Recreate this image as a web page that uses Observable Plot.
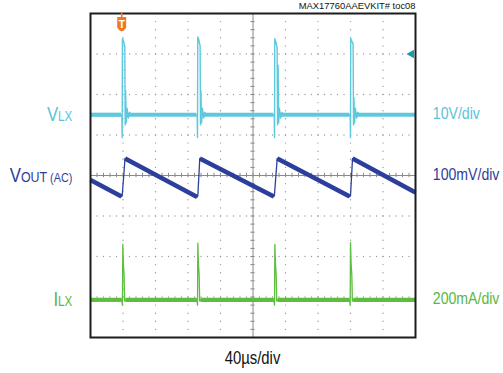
<!DOCTYPE html>
<html>
<head>
<meta charset="utf-8">
<script src="https://cdn.jsdelivr.net/npm/d3@7"></script>
<script src="https://cdn.jsdelivr.net/npm/@observablehq/plot@0.6"></script>
<style>
  html, body { margin: 0; padding: 0; background: #fff; }
  #chart svg { display: block; }
</style>
</head>
<body>
<div id="chart"></div>
<script>
// ---- Data (time in µs, 40 µs/div; amplitude in screen divisions from centre) ----
const title = "MAX17760AAEVKIT# toc08";
const xLabel = "40µs/div";
const gridX = [40, 80, 120, 160, 240, 280, 320, 360];
const gridY = [-3, -2, -1, 1, 2, 3];
const triggerTime = 39.0;
const triggerLevel = 3;

// VLX (10V/div)
const vlx = [
  [0,1.5],[37.5,1.5],[38.6,1.46],[39.0,0.94],[39.3,3.38],[40.6,3.32],[42.2,3.18],[42.7,1.25],[43.2,2.1],[44.0,1.3],[45.0,1.66],[46.5,1.42],[48.0,1.56],[50.0,1.5],
  [130.2,1.5],[131.3,1.46],[131.7,0.94],[132.0,3.42],[133.3,3.35],[134.9,3.2],[135.4,1.25],[135.9,2.1],[136.7,1.3],[137.7,1.66],[139.2,1.42],[140.7,1.56],[142.7,1.5],
  [225.0,1.5],[226.1,1.46],[226.5,0.94],[226.8,3.38],[228.1,3.3],[229.7,3.15],[230.2,1.25],[230.9,2.72],[231.6,1.3],[232.5,1.66],[234.0,1.42],[235.5,1.56],[237.5,1.5],
  [318.5,1.5],[319.6,1.46],[320.0,0.94],[320.3,3.38],[321.6,3.32],[323.2,3.25],[323.7,1.25],[324.2,1.93],[325.0,1.3],[326.0,1.66],[327.5,1.42],[329.0,1.56],[331.0,1.5],[400,1.5]
];
const vlxBase = 1.5;
const vlxQuiet = [[0,37.5],[44,130.2],[137,225],[232,318.5],[325,400]];

// VOUT (AC) (100mV/div)
const vout = [
  [0,-0.11],[38.2,-0.52],[39.0,-0.50],[42.5,0.42],
  [131.3,-0.53],[132.1,-0.50],[134.5,0.42],
  [225.6,-0.52],[226.3,-0.50],[229.8,0.42],
  [319.1,-0.52],[320.0,-0.50],[322.5,0.42],
  [400,-0.42]
];

// ILX (200mA/div)
const ilx = [
  [0,-3.07],[38.5,-3.07],[39.3,-3.2],[39.75,-1.70],[40.5,-2.2],[41.3,-2.44],[42.0,-3.1],[43.0,-3.07],
  [130.9,-3.07],[131.7,-3.2],[132.1,-1.67],[132.9,-2.2],[133.7,-2.44],[134.4,-3.1],[135.4,-3.07],
  [225.7,-3.07],[226.5,-3.2],[226.9,-1.70],[227.7,-2.2],[228.5,-2.44],[229.2,-3.1],[230.2,-3.07],
  [318.8,-3.07],[319.6,-3.2],[320.0,-1.66],[320.8,-2.2],[321.6,-2.44],[322.3,-3.1],[323.3,-3.07],[400,-3.07]
];
const ilxBase = -3.07;
const ilxQuiet = [[0,38.5],[43,130.9],[135.4,225.7],[230.2,318.8],[323.3,400]];

const channels = [
  {main: "V", sub: [["LX", 14.5]], scale: "10V/div", color: "#5bc3da", level: vlxBase},
  {main: "V", sub: [["OUT", 15.5], [" (AC)", 13.5]], scale: "100mV/div", color: "#2e3e98", level: 0},
  {main: "I", sub: [["LX", 14.5]], scale: "200mA/div", color: "#5ab744", level: ilxBase}
];

// ---- derived helpers (grid geometry) ----
const dotStepsY = d3.range(-4, 4.001, 0.2);
const dotStepsX = d3.range(0, 400.001, 8);
const gridDots = [
  ...gridX.flatMap(x => dotStepsY.map(y => ({x, y}))),
  ...gridY.flatMap(y => dotStepsX.map(x => ({x, y})))
];
const voutRamps = [];
for (let i = 0; i < vout.length - 1; i++) {
  if (vout[i+1][1] < vout[i][1]) voutRamps.push([vout[i], vout[i+1]]);
}

const cVLX = "#5ec8dc", cVOUT = "#2d3f9c", cILX = "#5dbd3f";

const chart = Plot.plot({
  width: 503,
  height: 373,
  marginLeft: 90,
  marginRight: 88,
  marginTop: 13,
  marginBottom: 36,
  x: {domain: [0, 400], axis: null},
  y: {domain: [-4, 4], axis: null},
  marks: [
    Plot.dot(gridDots, {x: "x", y: "y", r: 0.7, fill: "#9a9a9a", stroke: null}),
    Plot.ruleX([200], {stroke: "#8a8a8a", strokeWidth: 1}),
    Plot.ruleY([0], {stroke: "#8a8a8a", strokeWidth: 1}),
    Plot.ruleX(dotStepsX, {x: d => d, y1: -0.055, y2: 0.055, stroke: "#8a8a8a", strokeWidth: 1}),
    Plot.ruleY(dotStepsY, {y: d => d, x1: 197.4, x2: 202.6, stroke: "#8a8a8a", strokeWidth: 1}),
    // VLX
    Plot.link(vlxQuiet, {x1: d => d[0], x2: d => d[1], y1: vlxBase, y2: vlxBase, stroke: cVLX, strokeWidth: 4.2, strokeLinecap: "butt"}),
    Plot.line(vlx, {x: d => d[0], y: d => d[1], stroke: cVLX, strokeWidth: 1.4}),
    // VOUT
    Plot.link(voutRamps, {x1: d => d[0][0], y1: d => d[0][1], x2: d => d[1][0], y2: d => d[1][1], stroke: cVOUT, strokeWidth: 4.6, strokeLinecap: "butt"}),
    Plot.line(vout, {x: d => d[0], y: d => d[1], stroke: cVOUT, strokeWidth: 1.3, curve: "linear"}),
    // ILX
    Plot.link(ilxQuiet, {x1: d => d[0], x2: d => d[1], y1: ilxBase, y2: ilxBase, stroke: cILX, strokeWidth: 4.2, strokeLinecap: "butt"}),
    Plot.line(ilx, {x: d => d[0], y: d => d[1], stroke: cILX, strokeWidth: 1.3}),
    // trigger level marker
    Plot.dot([triggerLevel], {x: 395, y: d => d, symbol: "triangle", rotate: -90, r: 3.2, fill: "#1a9aa2", stroke: null}),
    Plot.frame({stroke: "#1c1c1c", strokeWidth: 2})
  ]
});

document.getElementById("chart").appendChild(chart);

const xs = chart.scale("x"), ys = chart.scale("y");
const svg = d3.select(chart);
const font = "'Liberation Sans', Arial, sans-serif";

// trigger position marker (orange "T")
{
  const tx = xs.apply(triggerTime), top = ys.apply(4);
  const g = svg.append("g");
  g.append("rect").attr("x", tx - 0.8).attr("y", top - 1).attr("width", 1.6).attr("height", 5).attr("fill", "#f07a22");
  g.append("path")
    .attr("d", `M${tx-4.5},${top+4} h9 v9.5 q0,3 -4.5,5 q-4.5,-2 -4.5,-5 z`)
    .attr("fill", "#f07a22");
  g.append("text").attr("x", tx).attr("y", top + 15).attr("text-anchor", "middle")
    .attr("font-family", font).attr("font-weight", "bold").attr("font-size", 10).attr("fill", "#fff").text("T");
}

// title
svg.append("text").attr("x", 415.5).attr("y", 8.6).attr("text-anchor", "end")
  .attr("font-family", font).attr("font-size", 9.4).attr("fill", "#111").text(title);

// x scale label
svg.append("text")
  .attr("transform", `translate(${xs.apply(200)},364) scale(0.85,1)`)
  .attr("text-anchor", "middle").attr("font-family", font).attr("font-size", 17.5).attr("fill", "#111")
  .text(xLabel);

// channel labels
for (const ch of channels) {
  const yb = ys.apply(ch.level) + 6.5;
  const t = svg.append("text")
    .attr("transform", `translate(72.3,${yb}) scale(0.8,1)`)
    .attr("text-anchor", "end").attr("font-family", font).attr("fill", ch.color);
  t.append("tspan").attr("font-size", 21).text(ch.main);
  for (const [s, fs] of ch.sub) t.append("tspan").attr("font-size", fs).text(s);
  svg.append("text")
    .attr("transform", `translate(432.8,${yb - 1.5}) scale(0.83,1)`)
    .attr("text-anchor", "start")
    .attr("font-family", font).attr("font-size", 17).attr("fill", ch.color)
    .text(ch.scale);
}
</script>
</body>
</html>
